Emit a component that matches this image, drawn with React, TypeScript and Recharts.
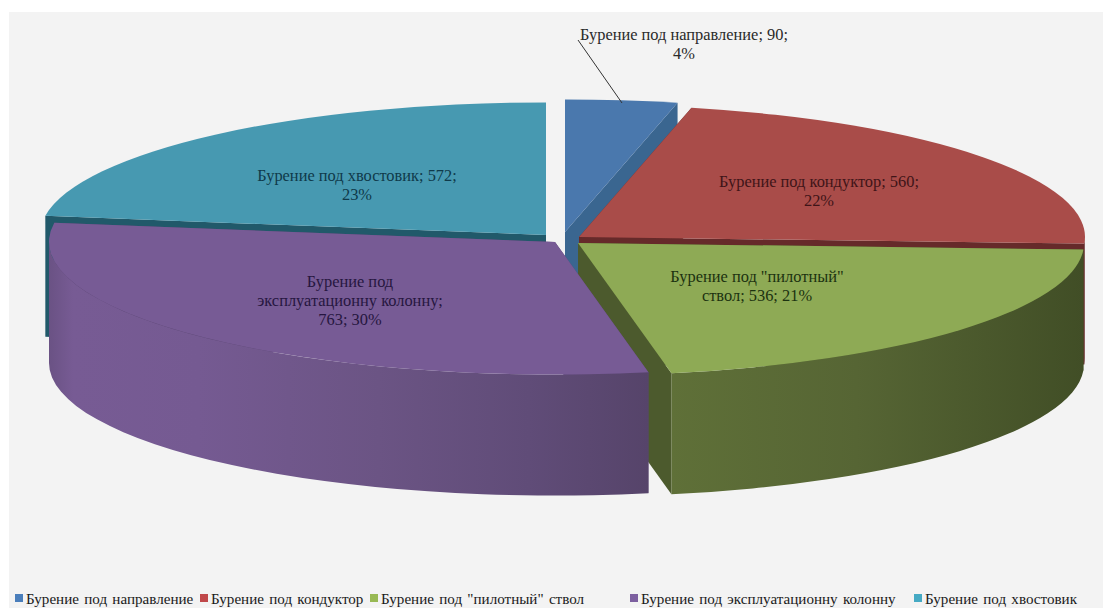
import { PieChart, Pie, Legend } from "recharts";

// chart data, in legend order
const names = [
  "Бурение под направление",
  "Бурение под кондуктор",
  'Бурение под "пилотный" ствол',
  "Бурение под эксплуатационну колонну",
  "Бурение под хвостовик",
];
const values = [90, 560, 536, 763, 572];
const colors = ["#4a78ad", "#a94c49", "#8eaa55", "#775b95", "#4799b1"];
const cutColors = ["#3a6690", "#662a2a", "#4c5a2d", "#5a4672", "#21596a"];
const legendColors = ["#4a7ebb", "#c0484a", "#98b954", "#7d60a0", "#46aac4"];
const labelColors = ["#2a2a2a", "#3f1418", "#1c3210", "#261640", "#0f3a4a"];

// line breaks of each data label, as word counts
const labelBreaks = [[4], [4], [3], [2, 4], [4]];
const labelCenters = [
  [684, 40],
  [819, 187],
  [757, 282],
  [350, 287],
  [357, 181],
];
const explodeX = [0, 14, 13, -10, -19];
const explodeY = [-6, -1, 5, 4, -3];

const legendLefts = [15, 200, 370, 630, 914];
const leaderLine = { x1: 578, y1: 40, x2: 622, y2: 103 };

const CX = 565;
const CY = 238;
const RX = 506;
const SQUASH = 0.262;
const DEPTH = 121;
const total = values.reduce((a, b) => a + b, 0);

// back slices are painted first, so the cyan one leads
const drawOrder = [4, 0, 1, 2, 3];
const data = drawOrder.map(i => ({ name: names[i], value: values[i], fill: colors[i] }));
const startAngle = 90 + (values[4] / total) * 360;

const Slice = (props: any) => {
  const i = names.indexOf(props.name);
  const rx = props.outerRadius;
  const ry = props.outerRadius * SQUASH;
  const cx = props.cx + explodeX[i];
  const cy = props.cy + explodeY[i];
  const pt = (deg: number, dy = 0) => {
    const r = (deg * Math.PI) / 180;
    return `${cx + rx * Math.cos(r)} ${cy - ry * Math.sin(r) + dy}`;
  };
  const a0 = props.startAngle;
  const a1 = props.endAngle;
  const face = (deg: number) => `M${cx} ${cy}L${pt(deg)}L${pt(deg, DEPTH)}L${cx} ${cy + DEPTH}Z`;
  const hi = Math.min(a0, 0);
  const lo = Math.max(a1, -180);
  return (
    <g>
      <path d={face(a0)} fill={cutColors[i]} />
      <path d={face(a1)} fill={cutColors[i]} />
      {hi > lo && (
        <path
          d={`M${pt(hi)}A${rx} ${ry} 0 0 1 ${pt(lo)}L${pt(lo, DEPTH)}A${rx} ${ry} 0 0 0 ${pt(hi, DEPTH)}Z`}
          fill={`url(#wall${i})`}
        />
      )}
      <path d={`M${cx} ${cy}L${pt(a0)}A${rx} ${ry} 0 0 1 ${pt(a1)}Z`} fill={colors[i]} />
    </g>
  );
};

const SliceLabel = (props: any) => {
  const i = names.indexOf(props.name);
  const words = `${props.name}; ${props.value}; ${Math.round(props.percent * 100)}%`.split(" ");
  const cuts = [0, ...labelBreaks[i], words.length];
  const lines = cuts.slice(1).map((c, k) => words.slice(cuts[k], c).join(" "));
  const [x, y] = labelCenters[i];
  return (
    <g>
      {i === 0 && <line {...leaderLine} stroke="#333" strokeWidth={1} />}
      <text x={x} y={y} textAnchor="middle" fontFamily="Liberation Serif" fontSize={16.4} fill={labelColors[i]}>
        {lines.map((l, k) => (
          <tspan key={k} x={x} dy={k ? 19 : 0}>{l}</tspan>
        ))}
      </text>
    </g>
  );
};

const LegendRow = () => (
  <div style={{ position: "relative", height: 20, fontFamily: "Liberation Serif", fontSize: 15.1, color: "#1a1a1a" }}>
    {names.map((n, i) => (
      <span key={n} style={{ position: "absolute", left: legendLefts[i], top: 0, whiteSpace: "nowrap", wordSpacing: 1.5 }}>
        <span style={{ display: "inline-block", width: 8, height: 8, background: legendColors[i], marginRight: 3, verticalAlign: 2 }} />
        {n}
      </span>
    ))}
  </div>
);

export default function App() {
  return (
    <div style={{ position: "fixed", left: 0, top: 0, width: 1103, height: 608, background: "#fff", overflow: "hidden" }}>
      <div style={{ position: "absolute", left: 9, top: 12, right: 0, bottom: 0, background: "#f3f3f3" }} />
      <PieChart width={1103} height={608} margin={{ top: 0, right: 0, bottom: 0, left: 0 }} style={{ position: "absolute", left: 0, top: 0 }}>
        <defs>
          <linearGradient id="wall1" x1="0" y1="0" x2="1" y2="0">
            <stop offset="0%" stopColor="#662a2a" />
          </linearGradient>
          <linearGradient id="wall2" x1="0" y1="0" x2="1" y2="0">
            <stop offset="0%" stopColor="#5f7038" />
            <stop offset="45%" stopColor="#566534" />
            <stop offset="100%" stopColor="#414e26" />
          </linearGradient>
          <linearGradient id="wall3" x1="0" y1="0" x2="1" y2="0">
            <stop offset="0%" stopColor="#6a5284" />
            <stop offset="4%" stopColor="#775b94" />
            <stop offset="25%" stopColor="#755a92" />
            <stop offset="55%" stopColor="#6b5484" />
            <stop offset="80%" stopColor="#604c78" />
            <stop offset="100%" stopColor="#56446a" />
          </linearGradient>
        </defs>
        <Pie
          data={data}
          dataKey="value"
          nameKey="name"
          cx={CX}
          cy={CY}
          innerRadius={0}
          outerRadius={RX}
          startAngle={startAngle}
          endAngle={startAngle - 360}
          stroke="none"
          shape={Slice}
          label={SliceLabel}
          labelLine={false}
          isAnimationActive={false}
        />
        <Legend
          content={<LegendRow />}
          wrapperStyle={{ position: "absolute", left: 0, top: 591, width: 1103, height: 20 }}
        />
      </PieChart>
    </div>
  );
}
